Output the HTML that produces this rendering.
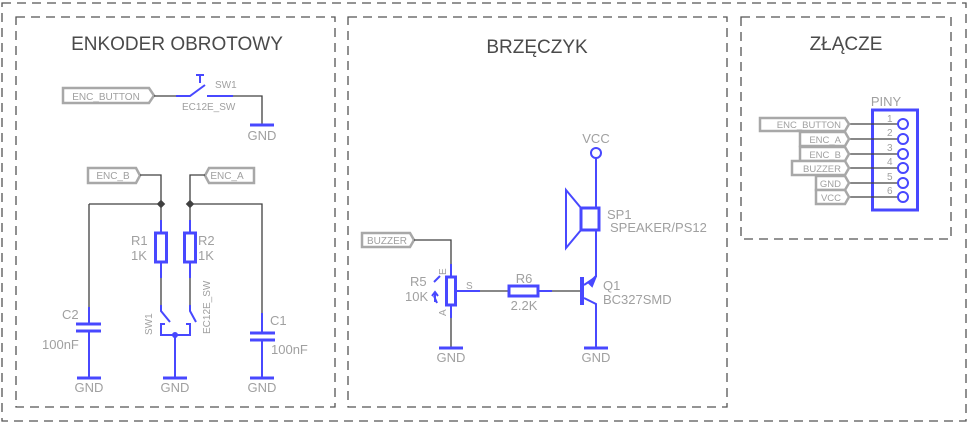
<!DOCTYPE html>
<html><head><meta charset="utf-8"><style>
html,body{margin:0;padding:0;background:#fff;}
svg{display:block;}
text{font-family:"Liberation Sans",sans-serif;fill:#a0a0a0;}
.t{fill:#4a4a4a;font-size:19px;}
.w{stroke:#404040;stroke-width:1.3;fill:none;}
.b{stroke:#4848ff;stroke-width:2;fill:none;}
.bt{stroke:#4848ff;stroke-width:3;fill:none;}
.d{stroke:#555;stroke-width:1.3;fill:none;stroke-dasharray:9,6;}
.lb{stroke:#a8a8a8;stroke-width:2.5;fill:#fff;}
.s{font-size:13px;}
.xs{font-size:10px;}
</style></head><body>
<svg width="968" height="424" viewBox="0 0 968 424" xmlns="http://www.w3.org/2000/svg">
<rect class="d" x="2" y="3" width="964" height="418"/>
<rect class="d" x="16" y="17" width="319" height="390"/>
<rect class="d" x="348" y="17" width="379" height="390"/>
<rect class="d" x="741" y="17" width="210" height="222"/>
<text class="t" x="177" y="50" text-anchor="middle">ENKODER OBROTOWY</text>
<text class="t" x="537" y="53" text-anchor="middle">BRZĘCZYK</text>
<text class="t" x="846" y="50" text-anchor="middle">ZŁĄCZE</text>

<!-- ENC_BUTTON -->
<polygon class="lb" points="63,88 149,88 154,95.5 149,103 63,103"/>
<text class="xs" x="106" y="100" text-anchor="middle" font-size="11">ENC_BUTTON</text>
<path class="w" d="M154,96H176 M233,96H262V125"/>
<path class="b" d="M176,96H190 L205,85 M207,96H233 M200,83V75 M196,75H204"/>
<text class="xs" x="215" y="88">SW1</text>
<text class="xs" x="182" y="110">EC12E_SW</text>
<path class="bt" d="M250,125H274"/>
<text class="s" x="262" y="140" text-anchor="middle">GND</text>

<!-- ENC_B / ENC_A -->
<polygon class="lb" points="88,168 136,168 140,175.5 136,183 88,183"/>
<text class="xs" x="113" y="179" text-anchor="middle">ENC_B</text>
<polygon class="lb" points="209,168 254,168 254,183 209,183 205,175.5"/>
<text class="xs" x="227" y="179" text-anchor="middle">ENC_A</text>
<path class="w" d="M140,175H161V220 M205,175H190V220 M89,204H161 M190,204H262V313 M89,204V307 M161,278V305 M190,278V305"/>
<rect x="158" y="201" width="6" height="6" transform="rotate(45 161 204)" fill="#404040"/>
<rect x="187" y="201" width="6" height="6" transform="rotate(45 190 204)" fill="#404040"/>
<!-- R1 R2 -->
<path class="b" d="M161,220V233 M161,262V278 M190,220V233 M190,262V278"/>
<rect class="bt" x="155.5" y="233" width="11" height="29"/>
<rect class="bt" x="184.5" y="233" width="11" height="29"/>
<text class="s" x="131" y="245">R1</text><text class="s" x="131" y="260">1K</text>
<text class="s" x="198" y="245">R2</text><text class="s" x="198" y="260">1K</text>
<!-- encoder switch -->
<path class="b" d="M161,305V311 L170,322 M165,324H161V335H190V324H186 M190,305V311 L196,322 M175,335V378"/>
<circle cx="175" cy="335" r="3" fill="#4848ff"/>
<text class="xs" transform="translate(152,335) rotate(-90)">SW1</text>
<text class="xs" transform="translate(210,334) rotate(-90)">EC12E_SW</text>
<!-- C2 -->
<path class="b" d="M89,307V324 M89,331V378"/>
<path class="bt" d="M76,324H101 M76,331H101"/>
<text class="s" x="62" y="319">C2</text><text class="s" x="42" y="349">100nF</text>
<!-- C1 -->
<path class="b" d="M262,313V333 M262,340V378"/>
<path class="bt" d="M250,333H275 M250,340H275"/>
<text class="s" x="270" y="325">C1</text><text class="s" x="271" y="354">100nF</text>
<path class="bt" d="M77,378H101 M163,378H187 M250,378H274"/>
<text class="s" x="89" y="392" text-anchor="middle">GND</text>
<text class="s" x="175" y="392" text-anchor="middle">GND</text>
<text class="s" x="262" y="392" text-anchor="middle">GND</text>

<!-- BRZECZYK -->
<text class="s" x="596" y="143" text-anchor="middle">VCC</text>
<circle class="b" cx="596" cy="153" r="5"/>
<path class="b" d="M596,158V208 M596,230V277"/>
<rect class="bt" x="581" y="208" width="18" height="22"/>
<polygon class="b" points="566,190 581,208 581,230 566,248" stroke-width="2"/>
<text class="s" x="607" y="219">SP1</text>
<text class="s" x="610" y="232">SPEAKER/PS12</text>
<polygon class="lb" points="362,233 410,233 414,240 410,247 362,247"/>
<text class="xs" x="387" y="244" text-anchor="middle">BUZZER</text>
<path class="w" d="M414,240H451V264 M451,318V348 M460,291H508 M540,291H582"/>
<path class="b" d="M451,264V277 M451,305V318 M455,291H480 M538,291H552"/>
<rect class="bt" x="446.5" y="277" width="9" height="28"/>
<path class="b" d="M437,303L434,296 M434,282L440,276 M435,292V302 M432,296L435,292L438,296" stroke-width="1.3"/>
<text class="s" x="410" y="286">R5</text><text class="s" x="405" y="301">10K</text>
<text class="xs" x="466" y="289">S</text>
<text class="xs" transform="translate(446,275) rotate(-90)">E</text>
<text class="xs" transform="translate(446,316) rotate(-90)">A</text>
<rect class="bt" x="509" y="286" width="29" height="10"/>
<text class="s" x="524" y="283" text-anchor="middle">R6</text>
<text class="s" x="524" y="310" text-anchor="middle">2.2K</text>
<path d="M582,277V305" stroke="#4848ff" stroke-width="4"/>
<path class="b" d="M584,285L596,277 M584,298L596,304V348"/>
<polygon points="589,283 596,276 592,286" fill="#4848ff" stroke="#4848ff" stroke-width="2"/>
<text class="s" x="603" y="290">Q1</text>
<text class="s" x="603" y="304">BC327SMD</text>
<path class="bt" d="M439,348H463 M584,348H608"/>
<text class="s" x="451" y="362" text-anchor="middle">GND</text>
<text class="s" x="596" y="362" text-anchor="middle">GND</text>

<!-- ZLACZE -->
<text class="s" x="886" y="106" text-anchor="middle">PINY</text>
<rect class="bt" x="872.5" y="110" width="45" height="100"/>
<g class="w">
<path d="M849,124H898 M849,139H898 M849,154H898 M849,168H898 M849,183H898 M849,197H898"/>
</g>
<g class="b" stroke-width="1.5">
<circle cx="903" cy="124" r="5"/><circle cx="903" cy="139" r="5"/><circle cx="903" cy="154" r="5"/>
<circle cx="903" cy="168" r="5"/><circle cx="903" cy="183" r="5"/><circle cx="903" cy="197" r="5"/>
</g>
<g class="xs">
<text x="887" y="122">1</text><text x="887" y="136">2</text><text x="887" y="151">3</text>
<text x="887" y="165">4</text><text x="887" y="180">5</text><text x="887" y="194">6</text>
</g>
<g class="lb" stroke-width="2">
<polygon points="760,118 845,118 849,124 845,131 760,131"/>
<polygon points="800,132 845,132 849,139 845,146 800,146"/>
<polygon points="800,147 845,147 849,154 845,161 800,161"/>
<polygon points="792,161 845,161 849,168 845,175 792,175"/>
<polygon points="816,176 845,176 849,183 845,190 816,190"/>
<polygon points="816,190 845,190 849,197 845,204 816,204"/>
</g>
<g font-size="9.5">
<text x="841" y="128" text-anchor="end">ENC_BUTTON</text>
<text x="841" y="143" text-anchor="end">ENC_A</text>
<text x="841" y="158" text-anchor="end">ENC_B</text>
<text x="841" y="172" text-anchor="end">BUZZER</text>
<text x="841" y="187" text-anchor="end">GND</text>
<text x="841" y="201" text-anchor="end">VCC</text>
</g>
</svg>
</body></html>
